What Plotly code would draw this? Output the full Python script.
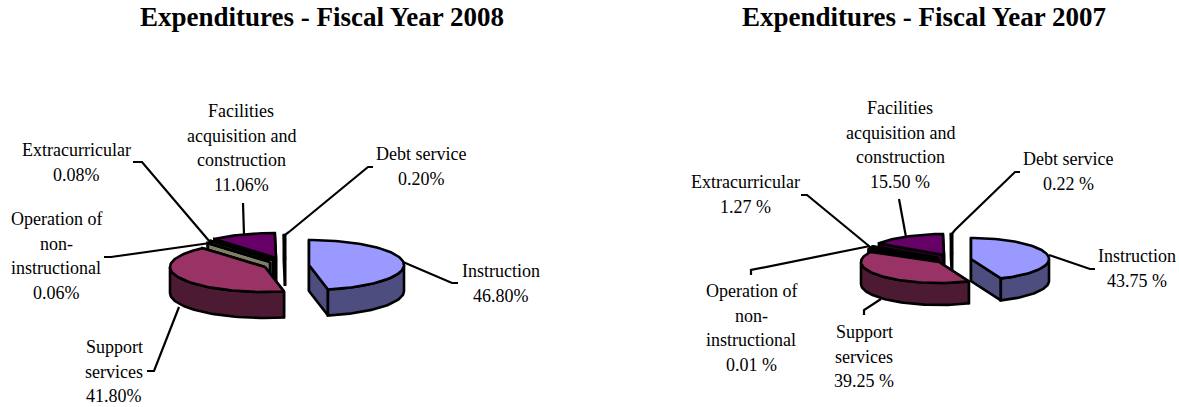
import math
import plotly.graph_objects as go

# ---------- data ----------
categories = ["Instruction", "Support services", "Operation of non-instructional",
              "Extracurricular", "Facilities acquisition and construction", "Debt service"]
values_2008 = [46.80, 41.80, 0.06, 0.08, 11.06, 0.20]
values_2007 = [43.75, 39.25, 0.01, 1.27, 15.50, 0.22]
title_2008 = "Expenditures - Fiscal Year 2008"
title_2007 = "Expenditures - Fiscal Year 2007"

# ---------- styles ----------
TOP = ["#9999FF", "#993366", "#FFFFCC", "#CCFFFF", "#660066", "#FF8080"]
SIDE = ["#4D4D80", "#4D1A33", "#808066", "#668080", "#330033", "#804040"]
DRAW_ORDER = [4, 5, 3, 2, 1, 0]
FONT = "Liberation Serif"
LABEL_SIZE = 18
TITLE_SIZE = 27
LINE_STEP = 24.5

# label line breaks per category
WRAP = [["Instruction"], ["Support", "services"], ["Operation of", "non-", "instructional"],
        ["Extracurricular"], ["Facilities", "acquisition and", "construction"], ["Debt service"]]

# ---------- layout of each 3-D pie (pixel frame) ----------
LAYOUT_2008 = dict(
    rx=95, ry=25, depth=26, suffix="%", title_x=322,
    centres=[(309, 265), (265, 267), (270, 262), (273, 260), (276, 258), (285, 260)],
    label_pos=[(501, 271), (114, 347), (56, 219), (76, 150), (241, 111), (421, 154)],
    leaders=[[(403, 262), (452, 283), (458, 283)],
             [(179, 307), (154, 371), (147, 371)],
             [(210, 243), (111, 257), (104, 257)],
             [(210, 242), (142, 162), (133, 162)],
             [(244, 235), (243, 203)],
             [(285, 235), (289, 232), (368, 167), (373, 167)]],
)
LAYOUT_2007 = dict(
    rx=78, ry=21, depth=22, suffix=" %", title_x=924,
    centres=[(971, 259), (939, 262), (937, 260), (938, 258), (944, 255), (952, 255)],
    label_pos=[(1137, 256), (864, 332), (751, 291), (745, 182), (900, 108), (1068, 159)],
    leaders=[[(1049, 255), (1090, 269), (1095, 269)],
             [(881, 299), (864, 310), (864, 315)],
             [(870, 246), (751, 270), (751, 275)],
             [(869, 246), (807, 195), (801, 195)],
             [(906, 237), (899, 199)],
             [(951, 235), (955, 230), (1015, 172), (1020, 172)]],
)

fig = go.Figure()


def add_poly(pts, fill):
    fig.add_trace(go.Scatter(
        x=[p[0] for p in pts] + [pts[0][0]], y=[p[1] for p in pts] + [pts[0][1]],
        mode="lines", fill="toself", fillcolor=fill,
        line=dict(color="black", width=2.6), hoverinfo="skip", showlegend=False))


def arc(cx, cy, rx, ry, a0, a1):
    n = max(2, int(abs(a1 - a0) / 2) + 2)
    out = []
    for i in range(n):
        a = math.radians(a0 + (a1 - a0) * i / (n - 1))
        out.append((cx + rx * math.sin(a), cy - ry * math.cos(a)))
    return out


def draw_pie(values, cfg):
    total = sum(values)
    rx, ry, d = cfg["rx"], cfg["ry"], cfg["depth"]
    starts = []
    acc = 0.0
    for v in values:
        starts.append(acc)
        acc += v / total * 360

    for lead in cfg["leaders"]:
        fig.add_trace(go.Scatter(x=[p[0] for p in lead], y=[p[1] for p in lead], mode="lines",
                                 line=dict(color="black", width=2.2), hoverinfo="skip",
                                 showlegend=False))

    for i in DRAW_ORDER:
        a0 = starts[i]
        a1 = a0 + values[i] / total * 360
        cx, cy = cfg["centres"][i]
        for a in (a0, a1):
            e = arc(cx, cy, rx, ry, a, a)[0]
            add_poly([(cx, cy), e, (e[0], e[1] + d), (cx, cy + d)], SIDE[i])
        lo, hi = max(a0, 90), min(a1, 270)
        if hi > lo:
            rim = arc(cx, cy, rx, ry, lo, hi)
            add_poly(rim + [(x, y + d) for x, y in reversed(rim)], SIDE[i])
        add_poly([(cx, cy)] + arc(cx, cy, rx, ry, a0, a1), TOP[i])

    annos = []
    for i, v in enumerate(values):
        lines = WRAP[i] + [f"{v:.2f}{cfg['suffix']}"]
        x, y = cfg["label_pos"][i]
        for k, t in enumerate(lines):
            annos.append(dict(x=x, y=y + k * LINE_STEP, text=t, showarrow=False, xref="x", yref="y",
                              xanchor="center", yanchor="middle",
                              font=dict(family=FONT, size=LABEL_SIZE, color="black")))
    return annos


annotations = draw_pie(values_2008, LAYOUT_2008) + draw_pie(values_2007, LAYOUT_2007)
for txt, cfg in ((title_2008, LAYOUT_2008), (title_2007, LAYOUT_2007)):
    annotations.append(dict(x=cfg["title_x"], y=17, text=f"<b>{txt}</b>", showarrow=False,
                            xref="x", yref="y", xanchor="center", yanchor="middle",
                            font=dict(family=FONT, size=TITLE_SIZE, color="black")))

fig.update_layout(
    width=1179, height=407, margin=dict(l=0, r=0, t=0, b=0),
    paper_bgcolor="white", plot_bgcolor="white", showlegend=False,
    xaxis=dict(range=[0, 1179], visible=False, fixedrange=True),
    yaxis=dict(range=[407, 0], visible=False, fixedrange=True),
    annotations=annotations,
)
fig.write_html("out.html", config={"displayModeBar": False},
               post_script="document.body.style.margin='0';document.body.style.overflow='hidden';")
